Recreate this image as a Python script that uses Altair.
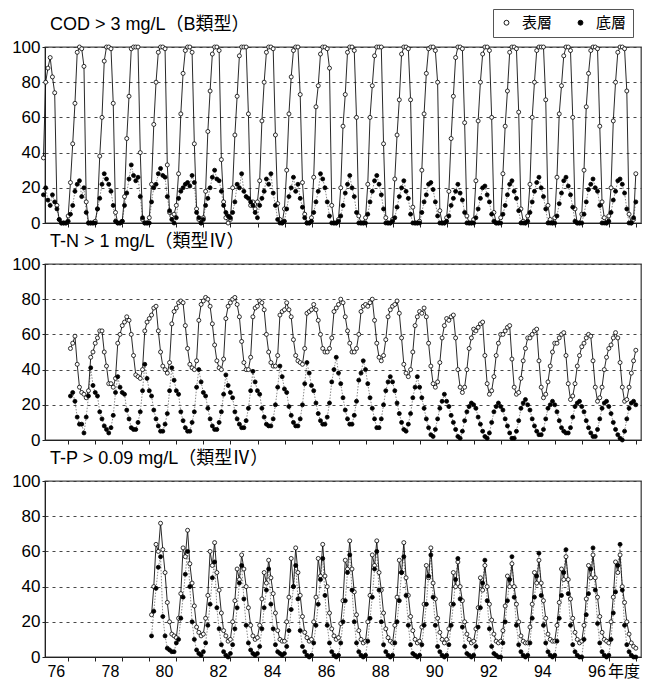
import altair as alt
import pandas as pd

# ---------------- data (fiscal-year rows, months Apr..Mar) ----------------
cod_start = 76
cod_surface = [
    [37, 80, 88, 94, 83, 74, 10, 2, 0, 0, 0, 4],
    [23, 45, 68, 97, 100, 99, 89, 12, 0, 0, 0, 1],
    [8, 38, 60, 92, 100, 100, 99, 68, 6, 0, 0, 1],
    [15, 48, 72, 99, 100, 100, 100, 40, 2, 0, 0, 3],
    [22, 56, 80, 97, 100, 100, 99, 33, 6, 4, 5, 10],
    [28, 62, 85, 98, 100, 100, 97, 45, 8, 2, 0, 3],
    [18, 52, 75, 96, 100, 100, 98, 36, 12, 3, 0, 2],
    [20, 50, 72, 95, 100, 100, 100, 62, 10, 12, 8, 12],
    [24, 58, 80, 97, 100, 100, 99, 50, 11, 2, 0, 8],
    [30, 62, 83, 98, 100, 100, 73, 23, 5, 0, 0, 3],
    [26, 66, 78, 96, 100, 100, 99, 88, 10, 0, 0, 2],
    [20, 55, 73, 97, 100, 100, 98, 60, 4, 0, 0, 3],
    [22, 60, 78, 95, 100, 100, 100, 45, 3, 0, 0, 2],
    [25, 50, 70, 96, 100, 100, 99, 70, 9, 0, 0, 1],
    [30, 62, 85, 99, 100, 100, 98, 80, 7, 0, 0, 3],
    [18, 48, 72, 94, 100, 100, 99, 57, 4, 0, 0, 2],
    [24, 58, 80, 96, 100, 100, 98, 60, 6, 0, 0, 3],
    [28, 55, 75, 97, 100, 100, 99, 63, 8, 1, 0, 4],
    [22, 60, 80, 98, 100, 100, 100, 70, 10, 2, 0, 3],
    [26, 62, 78, 95, 100, 100, 98, 60, 8, 0, 0, 5],
    [30, 66, 85, 98, 100, 100, 99, 55, 12, 3, 0, 4],
    [20, 58, 80, 97, 100, 100, 99, 75, 5, 0, 2, 28],
]
cod_bottom = [
    [16, 20, 13, 10, 16, 12, 8, 2, 0, 0, 0, 1],
    [5, 10, 18, 22, 24, 15, 20, 6, 0, 0, 0, 0],
    [8, 14, 22, 28, 25, 22, 18, 10, 1, 0, 0, 1],
    [10, 17, 25, 33, 27, 24, 26, 15, 3, 0, 0, 0],
    [12, 20, 22, 28, 31, 27, 26, 15, 7, 2, 0, 3],
    [14, 18, 20, 22, 23, 21, 27, 23, 6, 3, 0, 2],
    [10, 14, 20, 26, 30, 25, 24, 18, 10, 6, 4, 3],
    [6, 12, 22, 20, 28, 18, 15, 14, 12, 10, 6, 3],
    [10, 14, 18, 25, 22, 28, 17, 10, 2, 0, 0, 1],
    [8, 15, 20, 26, 18, 22, 14, 9, 3, 0, 0, 1],
    [6, 12, 18, 28, 25, 20, 12, 4, 0, 0, 0, 1],
    [4, 10, 17, 22, 27, 20, 15, 6, 0, 0, 0, 0],
    [5, 12, 18, 24, 27, 22, 16, 8, 0, 0, 0, 1],
    [3, 9, 15, 20, 24, 18, 14, 5, 0, 0, 0, 0],
    [6, 12, 16, 22, 23, 19, 12, 4, 0, 0, 0, 1],
    [4, 10, 14, 18, 22, 17, 13, 6, 0, 0, 0, 0],
    [3, 8, 14, 20, 21, 16, 12, 5, 1, 0, 0, 0],
    [5, 10, 16, 22, 24, 18, 14, 7, 0, 0, 0, 1],
    [6, 12, 18, 23, 26, 20, 15, 8, 0, 0, 0, 0],
    [4, 11, 17, 24, 26, 21, 16, 9, 1, 0, 0, 0],
    [5, 12, 19, 22, 25, 20, 18, 10, 0, 0, 0, 1],
    [6, 13, 18, 24, 25, 22, 17, 8, 0, 0, 3, 12],
]

tn_start = 77
tn_surface = [
    [52, 55, 59, 43, 30, 27, 26, 24, 28, 47, 50, 55],
    [58, 62, 62, 50, 42, 32, 32, 30, 35, 55, 60, 65],
    [67, 70, 68, 60, 48, 37, 36, 35, 40, 62, 67, 69],
    [71, 75, 76, 62, 50, 42, 40, 38, 44, 66, 73, 75],
    [78, 79, 78, 65, 52, 43, 41, 40, 45, 68, 77, 79],
    [81, 80, 76, 66, 54, 45, 41, 40, 46, 69, 76, 78],
    [80, 81, 77, 70, 56, 44, 40, 40, 47, 70, 75, 76],
    [79, 78, 74, 60, 50, 44, 42, 42, 48, 71, 73, 74],
    [78, 74, 70, 57, 48, 45, 44, 43, 52, 72, 73, 74],
    [77, 74, 68, 60, 52, 50, 50, 52, 58, 73, 75, 77],
    [80, 78, 70, 62, 55, 50, 50, 52, 60, 73, 76, 77],
    [76, 78, 80, 68, 55, 47, 45, 48, 57, 70, 74, 76],
    [77, 79, 72, 58, 43, 38, 36, 40, 50, 65, 70, 73],
    [72, 75, 70, 55, 42, 32, 30, 33, 44, 58, 65, 69],
    [68, 70, 71, 58, 40, 30, 27, 30, 40, 52, 58, 63],
    [62, 64, 66, 67, 48, 32, 26, 28, 36, 48, 55, 60],
    [60, 62, 64, 65, 46, 30, 26, 27, 35, 45, 52, 58],
    [58, 60, 62, 63, 45, 30, 24, 26, 33, 42, 50, 55],
    [55, 58, 60, 61, 48, 32, 23, 25, 32, 42, 48, 53],
    [55, 58, 60, 59, 45, 30, 22, 24, 30, 40, 47, 52],
    [54, 58, 61, 58, 44, 30, 22, 23, 30, 38, 45, 51],
]
tn_bottom = [
    [25, 27, 22, 13, 9, 9, 4, 13, 25, 41, 31, 27],
    [25, 16, 12, 8, 6, 4, 7, 14, 27, 36, 30, 27],
    [26, 17, 12, 7, 6, 6, 10, 16, 28, 43, 35, 28],
    [25, 17, 12, 8, 5, 5, 9, 15, 28, 41, 34, 28],
    [26, 16, 11, 7, 5, 5, 10, 16, 30, 40, 33, 27],
    [25, 18, 12, 8, 6, 6, 10, 16, 26, 37, 31, 27],
    [24, 16, 12, 9, 7, 7, 11, 18, 28, 39, 33, 28],
    [26, 18, 13, 9, 8, 8, 12, 20, 30, 42, 36, 29],
    [27, 19, 14, 10, 8, 8, 12, 20, 32, 44, 38, 31],
    [28, 21, 15, 11, 9, 9, 13, 21, 33, 40, 47, 38],
    [32, 24, 17, 12, 9, 9, 14, 22, 34, 38, 45, 40],
    [32, 24, 18, 12, 7, 7, 12, 20, 28, 33, 36, 33],
    [28, 21, 15, 10, 6, 5, 9, 15, 24, 30, 36, 30],
    [24, 18, 12, 7, 3, 2, 6, 12, 18, 22, 26, 22],
    [19, 14, 10, 6, 2, 1, 5, 11, 16, 19, 21, 20],
    [18, 13, 9, 5, 2, 1, 4, 10, 16, 19, 21, 19],
    [17, 12, 8, 4, 1, 1, 5, 11, 18, 21, 23, 20],
    [17, 12, 8, 5, 3, 3, 6, 12, 18, 20, 22, 20],
    [16, 11, 7, 5, 4, 4, 7, 13, 19, 21, 22, 19],
    [16, 11, 7, 4, 2, 2, 6, 12, 18, 21, 22, 19],
    [15, 10, 6, 3, 1, 0, 5, 12, 18, 21, 22, 20],
]

tp_start = 80
tp_surface = [
    [24, 40, 64, 60, 76, 61, 48, 31, 20, 13, 12, 11],
    [22, 36, 62, 57, 72, 53, 42, 29, 17, 14, 12, 13],
    [22, 35, 60, 52, 65, 48, 38, 25, 15, 12, 9, 10],
    [20, 32, 50, 44, 58, 50, 40, 28, 18, 12, 10, 11],
    [18, 33, 48, 42, 55, 45, 36, 25, 15, 10, 9, 9],
    [20, 34, 56, 40, 62, 48, 35, 23, 14, 11, 9, 10],
    [20, 34, 56, 46, 64, 46, 40, 25, 16, 12, 10, 11],
    [19, 32, 55, 50, 66, 50, 37, 24, 15, 10, 8, 9],
    [20, 35, 58, 52, 66, 48, 38, 25, 16, 11, 9, 8],
    [18, 34, 55, 48, 65, 45, 35, 23, 15, 10, 8, 9],
    [17, 30, 52, 45, 62, 42, 33, 22, 14, 10, 8, 10],
    [16, 30, 48, 40, 54, 40, 32, 20, 13, 10, 8, 9],
    [16, 28, 45, 38, 52, 40, 30, 21, 13, 9, 8, 9],
    [15, 29, 46, 40, 53, 40, 30, 20, 12, 9, 8, 8],
    [17, 30, 48, 42, 55, 42, 32, 22, 13, 10, 9, 9],
    [18, 31, 50, 44, 57, 44, 33, 22, 14, 10, 8, 9],
    [18, 33, 52, 45, 58, 45, 34, 23, 14, 10, 9, 8],
    [20, 34, 54, 48, 58, 40, 31, 20, 13, 8, 6, 5],
]
tp_bottom = [
    [12, 26, 39, 51, 57, 23, 12, 5, 4, 3, 3, 8],
    [10, 22, 34, 47, 60, 40, 20, 10, 4, 2, 1, 3],
    [8, 18, 30, 45, 54, 28, 16, 7, 3, 1, 0, 2],
    [7, 16, 28, 42, 52, 33, 18, 8, 4, 2, 1, 2],
    [6, 16, 28, 38, 50, 30, 16, 7, 3, 2, 1, 2],
    [6, 15, 27, 40, 52, 33, 15, 6, 3, 1, 0, 1],
    [8, 18, 30, 44, 56, 35, 18, 8, 3, 1, 0, 1],
    [8, 20, 32, 48, 58, 38, 20, 8, 3, 1, 0, 1],
    [9, 22, 34, 50, 60, 38, 20, 7, 3, 1, 0, 1],
    [8, 20, 32, 48, 57, 35, 18, 7, 2, 1, 0, 1],
    [7, 18, 30, 46, 58, 34, 18, 6, 3, 1, 0, 1],
    [7, 18, 30, 44, 56, 33, 17, 6, 2, 1, 0, 1],
    [6, 17, 28, 42, 55, 32, 16, 6, 2, 1, 0, 0],
    [8, 20, 32, 44, 57, 34, 18, 7, 3, 1, 0, 1],
    [8, 22, 34, 46, 59, 35, 18, 8, 3, 1, 0, 1],
    [9, 22, 35, 48, 61, 36, 18, 7, 3, 1, 0, 0],
    [10, 24, 36, 50, 62, 38, 19, 8, 3, 1, 0, 1],
    [10, 25, 37, 52, 64, 38, 18, 7, 3, 1, 0, 0],
]

titles = ["COD > 3 mg/L（B類型）", "T-N > 1 mg/L（類型Ⅳ）", "T-P > 0.09 mg/L（類型Ⅳ）"]
series_names = ["表層", "底層"]
year_ticks = list(range(76, 98))
y_ticks = [0, 20, 40, 60, 80, 100]

FONT = "Liberation Sans, Arial, Noto Sans CJK JP"
CJK = "Noto Sans CJK JP"


def to_frame(start, surface, bottom):
    rows = []
    for name, table in ((series_names[0], surface), (series_names[1], bottom)):
        for i, row in enumerate(table):
            for m, v in enumerate(row):
                rows.append({"x": start + i - 0.5 + (m + 0.5) / 12, "v": v, "s": name})
    return pd.DataFrame(rows)


W, H = 596, 176


def panel(df, title, show_labels, show_legend):
    xaxis = alt.Axis(
        values=year_ticks, tickOffset=12.5, labelOffset=-12.5,
        labels=show_labels,
        labelExpr="datum.value == 97 ? '年度' : (datum.value % 2 == 0 ? datum.label : '')",
        labelFont=FONT, labelFontSize=16, labelOverlap=False, labelFlush=0,
        labelBound=False, labelPadding=2, tickSize=4, grid=False, title=None,
    )
    x = alt.X("x:Q", scale=alt.Scale(domain=[75.6, 97.65], nice=False, zero=False), axis=xaxis)
    y = alt.Y(
        "v:Q", scale=alt.Scale(domain=[0, 100], nice=False),
        axis=alt.Axis(values=y_ticks, title=None, grid=True, gridDash=[3, 4],
                      gridColor="#333", gridWidth=0.9, labelFont=FONT, labelFontSize=17,
                      tickSize=3, labelPadding=2),
    )
    base = alt.Chart(df)
    line_b = base.mark_line(color="#888", strokeWidth=1, strokeDash=[1.5, 1.5]).encode(
        x=x, y=y).transform_filter(alt.datum.s == series_names[1])
    line_s = base.mark_line(color="#111", strokeWidth=0.9).encode(
        x=x, y=y).transform_filter(alt.datum.s == series_names[0])
    legend = alt.Legend(
        orient="none", legendX=448, legendY=-38, direction="horizontal", title=None,
        strokeColor="#555", padding=6, labelFont=CJK, labelFontSize=15,
        symbolStrokeColor="black", symbolStrokeWidth=0.9, symbolSize=24, symbolType="circle",
        columnPadding=20, labelOffset=8, fillColor="white",
    ) if show_legend else None
    pts = base.mark_point(shape="circle", filled=False, stroke="black", strokeWidth=0.8,
                          size=16, opacity=1).encode(
        x=x, y=y,
        fill=alt.Fill("s:N", scale=alt.Scale(domain=series_names, range=["white", "black"]),
                      legend=legend),
    )
    return alt.layer(line_b, line_s, pts).properties(
        width=W, height=H,
        title=alt.TitleParams(title, anchor="start", frame="group", font=FONT, fontSize=18,
                              fontWeight="normal", color="black", offset=4, dx=5),
    )


p1 = panel(to_frame(cod_start, cod_surface, cod_bottom), titles[0], False, True)
p2 = panel(to_frame(tn_start, tn_surface, tn_bottom), titles[1], False, False)
p3 = panel(to_frame(tp_start, tp_surface, tp_bottom), titles[2], True, False)

chart = alt.vconcat(p1, p2, p3, spacing=0).properties(
    padding={"top": 0, "left": 2, "right": 0, "bottom": 0}
).configure_view(stroke="#444", strokeWidth=1.3).configure_axis(
    domainColor="#222", tickColor="#222", labelColor="black"
)

chart.save("out.html", embed_options={"renderer": "svg", "actions": False})
